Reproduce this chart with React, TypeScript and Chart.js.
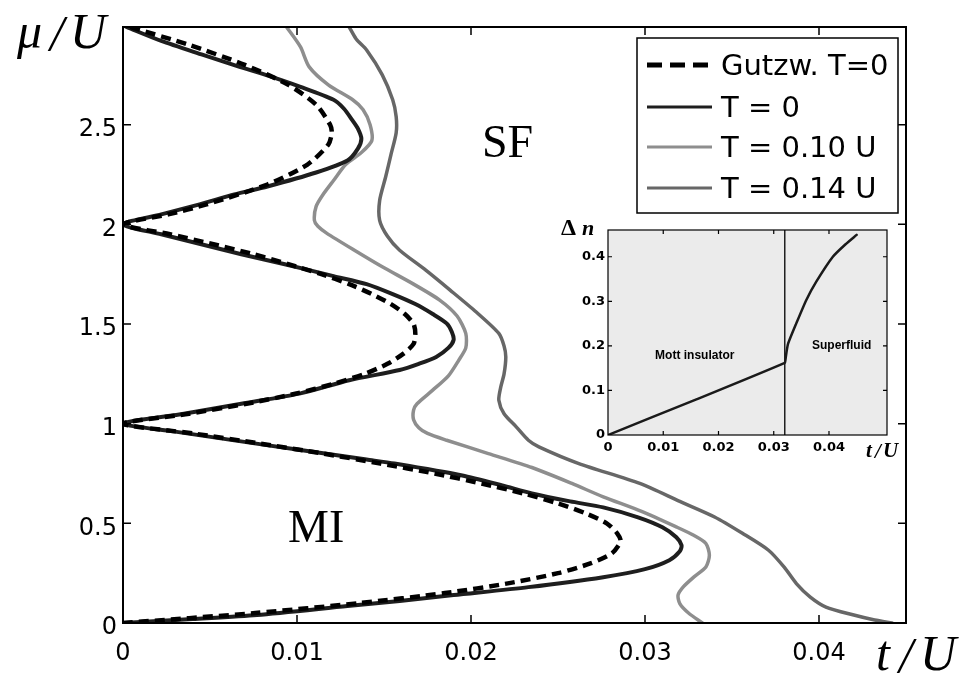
import React, { useEffect, useRef } from "react";
import { Chart, registerables } from "chart.js";

Chart.register(...registerables);

// ---------- main axes ----------
const tTicks = [0, 0.01, 0.02, 0.03, 0.04];
const muTicks = [0, 0.5, 1, 1.5, 2, 2.5];

// T = 0 (solid black)
const muT0 = [
  0, 0.02, 0.04, 0.085, 0.11, 0.14, 0.18, 0.23, 0.27, 0.315, 0.36, 0.39, 0.43, 0.48, 0.53, 0.58, 0.61, 0.65, 0.69, 0.74, 0.8, 0.82, 0.87, 0.92, 0.96, 1.0,
  1.05, 1.1, 1.152, 1.218, 1.269, 1.3, 1.335, 1.38, 1.42, 1.46, 1.503, 1.55, 1.6, 1.65, 1.7, 1.74, 1.8, 1.85, 1.9, 1.95, 2.0,
  2.05, 2.1, 2.15, 2.19, 2.26, 2.32, 2.38, 2.43, 2.48, 2.52, 2.58, 2.625, 2.69, 2.75, 2.79, 2.85, 2.92, 2.99,
];
const tT0 = [
  0, 0.004, 0.0077, 0.0129, 0.0159, 0.019, 0.0233, 0.0276, 0.03, 0.0314, 0.032, 0.0321, 0.0318, 0.031, 0.0296, 0.0276, 0.0257, 0.0235, 0.0218, 0.0195, 0.0156, 0.014, 0.01, 0.0061, 0.003, 0,
  0.0035, 0.0068, 0.0102, 0.013, 0.0159, 0.017, 0.018, 0.0187, 0.019, 0.0189, 0.0186, 0.0178, 0.0168, 0.0155, 0.014, 0.0121, 0.0093, 0.0068, 0.0045, 0.0022, 0,
  0.0022, 0.0044, 0.0064, 0.0083, 0.0111, 0.0129, 0.0135, 0.0137, 0.0135, 0.0132, 0.0127, 0.0121, 0.0102, 0.0082, 0.0067, 0.0046, 0.0022, 0.0002,
];

// Gutzwiller T = 0 (dashed black)
const muGutz = [
  0, 0.05, 0.1, 0.15, 0.2, 0.25, 0.3, 0.35, 0.41, 0.45, 0.5, 0.55, 0.6, 0.65, 0.7, 0.75, 0.8, 0.85, 0.9, 0.95, 1.0,
  1.05, 1.1, 1.15, 1.2, 1.25, 1.3, 1.35, 1.4, 1.45, 1.5, 1.55, 1.6, 1.65, 1.7, 1.75, 1.8, 1.85, 1.9, 1.95, 2.0,
  2.05, 2.1, 2.2, 2.3, 2.4, 2.46, 2.5, 2.6, 2.7, 2.8, 2.9, 2.99,
];
const tGutz = [
  0, 0.0076, 0.0136, 0.0185, 0.0222, 0.025, 0.0269, 0.0281, 0.0286, 0.0284, 0.0278, 0.0266, 0.025, 0.023, 0.0206, 0.0179, 0.0148, 0.0115, 0.0079, 0.0041, 0,
  0.0038, 0.0071, 0.0099, 0.0121, 0.0139, 0.0152, 0.0161, 0.0167, 0.0168, 0.0167, 0.0162, 0.0154, 0.0143, 0.013, 0.0114, 0.0095, 0.0075, 0.0052, 0.0027, 0,
  0.0026, 0.0048, 0.0083, 0.0106, 0.0118, 0.012, 0.0119, 0.0111, 0.0095, 0.007, 0.0038, 0.0004,
];

// T = 0.10 U (light grey)
const muT10 = [
  0, 0.05, 0.097, 0.14, 0.181, 0.23, 0.281, 0.34, 0.399, 0.44, 0.482, 0.56, 0.633, 0.7, 0.78, 0.85, 0.917, 0.951, 0.98, 1.02, 1.068, 1.1, 1.168, 1.24,
  1.319, 1.38, 1.453, 1.54, 1.62, 1.7, 1.787, 1.87, 1.956, 1.99, 2.02, 2.09, 2.15, 2.22, 2.3, 2.36, 2.42, 2.5, 2.575, 2.625, 2.7, 2.79, 2.89, 2.99,
];
const tT10 = [
  0.0333, 0.0325, 0.032, 0.0319, 0.0322, 0.0328, 0.0335, 0.0337, 0.0335, 0.0328, 0.0318, 0.0298, 0.0276, 0.0258, 0.0235, 0.021, 0.0186, 0.0175, 0.017, 0.0167, 0.0167, 0.0169, 0.0178, 0.0187,
  0.0193, 0.0197, 0.0197, 0.0192, 0.0182, 0.0167, 0.0149, 0.0133, 0.0117, 0.0112, 0.011, 0.0111, 0.0115, 0.0121, 0.0128, 0.0137, 0.0143, 0.0142, 0.0138, 0.0132, 0.0118, 0.0107, 0.0102, 0.0094,
];

// T = 0.14 U (dark grey)
const muT14 = [
  0, 0.015, 0.04, 0.08, 0.13, 0.198, 0.28, 0.365, 0.45, 0.532, 0.61, 0.7, 0.8, 0.884, 0.917, 0.984, 1.05, 1.118, 1.18, 1.25, 1.335, 1.39, 1.453,
  1.56, 1.67, 1.77, 1.87, 1.94, 2.02, 2.12, 2.24, 2.35, 2.46, 2.54, 2.625, 2.75, 2.875, 2.93, 2.99,
];
const tT14 = [
  0.0442, 0.0432, 0.042, 0.0404, 0.0395, 0.0387, 0.038, 0.0371, 0.0356, 0.034, 0.032, 0.0297, 0.0262, 0.0239, 0.0233, 0.0226, 0.0219, 0.0216, 0.0217, 0.0219, 0.022, 0.0219, 0.0216,
  0.0203, 0.0188, 0.0174, 0.0159, 0.0152, 0.01475, 0.01475, 0.0151, 0.0154, 0.0157, 0.0157, 0.0155, 0.0149, 0.014, 0.0134, 0.013,
];

// ---------- inset ----------
const insetTTicks = [0, 0.01, 0.02, 0.03, 0.04];
const insetDnTicks = [0, 0.1, 0.2, 0.3, 0.4];
const insetT = [0, 0.016, 0.032, 0.0321, 0.0323, 0.0326, 0.0341, 0.0359, 0.0377, 0.0407, 0.043, 0.045];
const insetDn = [0, 0.08, 0.162, 0.167, 0.185, 0.205, 0.251, 0.303, 0.344, 0.4, 0.428, 0.449];
const insetTc = 0.032;

const zip = (xs: number[], ys: number[]) => xs.map((x, i) => ({ x, y: ys[i] }));

const SANS = '"DejaVu Sans", sans-serif';
const SERIF = '"Liberation Serif", "DejaVu Serif", serif';

const mainDecor = {
  id: "mainDecor",
  afterDraw(chart: any) {
    const { ctx, chartArea: a, scales } = chart;
    const xs = scales.x;
    const ys = scales.y;
    ctx.save();
    // frame
    ctx.strokeStyle = "#000";
    ctx.lineWidth = 2;
    ctx.strokeRect(a.left, a.top, a.right - a.left, a.bottom - a.top);
    // inward ticks on all four sides
    ctx.lineWidth = 1.5;
    ctx.beginPath();
    for (const v of tTicks) {
      if (v === 0) continue;
      const px = xs.getPixelForValue(v);
      ctx.moveTo(px, a.bottom);
      ctx.lineTo(px, a.bottom - 8);
      ctx.moveTo(px, a.top);
      ctx.lineTo(px, a.top + 8);
    }
    for (const v of muTicks) {
      if (v === 0) continue;
      const py = ys.getPixelForValue(v);
      ctx.moveTo(a.left, py);
      ctx.lineTo(a.left + 8, py);
      ctx.moveTo(a.right, py);
      ctx.lineTo(a.right - 8, py);
    }
    ctx.stroke();

    // legend box
    const lx0 = 637, ly0 = 38, lx1 = 898, ly1 = 213;
    ctx.fillStyle = "#fff";
    ctx.fillRect(lx0, ly0, lx1 - lx0, ly1 - ly0);
    ctx.lineWidth = 1.5;
    ctx.strokeStyle = "#000";
    ctx.strokeRect(lx0, ly0, lx1 - lx0, ly1 - ly0);
    const rows = [65, 107, 147, 188];
    const ds = chart.data.datasets;
    ctx.font = `29px ${SANS}`;
    ctx.textBaseline = "middle";
    ctx.textAlign = "left";
    ds.forEach((d: any, i: number) => {
      const y = rows[i];
      ctx.beginPath();
      ctx.strokeStyle = d.borderColor;
      ctx.lineWidth = d.borderDash ? 5 : 3;
      ctx.setLineDash(d.borderDash ? [15, 8] : []);
      ctx.moveTo(647, y);
      ctx.lineTo(712, y);
      ctx.stroke();
      ctx.setLineDash([]);
      ctx.fillStyle = "#000";
      ctx.fillText(d.label, 721, y + 2);
    });

    // region labels
    ctx.fillStyle = "#000";
    ctx.font = `46px ${SERIF}`;
    ctx.textAlign = "center";
    ctx.textBaseline = "alphabetic";
    ctx.fillText("SF", xs.getPixelForValue(0.0221), ys.getPixelForValue(2.338));
    ctx.fillText("MI", xs.getPixelForValue(0.0111), ys.getPixelForValue(0.405));

    // axis titles
    ctx.font = `italic 50px ${SERIF}`;
    ctx.textAlign = "left";
    ctx.fillText("\u03bc", 17, 48);
    ctx.fillText("/", 50, 50);
    ctx.fillText("U", 70, 48);
    ctx.fillText("t", 876, 670);
    ctx.fillText("/", 899, 672);
    ctx.fillText("U", 920, 670);
    ctx.restore();
  },
};

const insetDecor = {
  id: "insetDecor",
  beforeDatasetsDraw(chart: any) {
    const { ctx, chartArea: a } = chart;
    ctx.save();
    ctx.fillStyle = "#ebebeb";
    ctx.fillRect(a.left, a.top, a.right - a.left, a.bottom - a.top);
    ctx.restore();
  },
  afterDraw(chart: any) {
    const { ctx, chartArea: a, scales } = chart;
    const xs = scales.x;
    const ys = scales.y;
    ctx.save();
    ctx.strokeStyle = "#000";
    ctx.lineWidth = 1.2;
    ctx.strokeRect(a.left, a.top, a.right - a.left, a.bottom - a.top);
    ctx.beginPath();
    for (const v of insetTTicks) {
      if (v === 0) continue;
      const px = xs.getPixelForValue(v);
      ctx.moveTo(px, a.bottom);
      ctx.lineTo(px, a.bottom - 4);
      ctx.moveTo(px, a.top);
      ctx.lineTo(px, a.top + 4);
    }
    for (const v of insetDnTicks) {
      if (v === 0) continue;
      const py = ys.getPixelForValue(v);
      ctx.moveTo(a.left, py);
      ctx.lineTo(a.left + 4, py);
      ctx.moveTo(a.right, py);
      ctx.lineTo(a.right - 4, py);
    }
    ctx.stroke();

    ctx.fillStyle = "#000";
    ctx.font = `bold 12px "Liberation Sans", sans-serif`;
    ctx.textAlign = "center";
    ctx.textBaseline = "middle";
    ctx.fillText("Mott insulator", xs.getPixelForValue(0.0157), ys.getPixelForValue(0.178));
    ctx.fillText("Superfluid", xs.getPixelForValue(0.0423), ys.getPixelForValue(0.2));

    // titles (canvas-local coords; canvas origin at 540,215)
    ctx.textAlign = "left";
    ctx.textBaseline = "alphabetic";
    ctx.font = `bold 24px ${SERIF}`;
    ctx.fillText("\u0394", 21, 20);
    ctx.font = `italic bold 22px ${SERIF}`;
    ctx.fillText("n", 42, 20);
    ctx.font = `italic bold 21px ${SERIF}`;
    ctx.fillText("t", 326, 242);
    ctx.fillText("/", 335, 243);
    ctx.fillText("U", 343, 242);
    ctx.restore();
  },
};

export default function App() {
  const mainRef = useRef<HTMLCanvasElement | null>(null);
  const insetRef = useRef<HTMLCanvasElement | null>(null);

  useEffect(() => {
    const common = {
      pointRadius: 0,
      pointHoverRadius: 0,
      fill: false,
      tension: 0.25,
      borderCapStyle: "round",
      borderJoinStyle: "round",
    };
    const main = new Chart(mainRef.current as HTMLCanvasElement, {
      type: "line",
      data: {
        datasets: [
          { ...common, label: "Gutzw. T=0", data: zip(tGutz, muGutz), borderColor: "#000000", borderWidth: 4.5, borderDash: [10, 6], borderCapStyle: "butt", order: 0 },
          { ...common, label: "T = 0", data: zip(tT0, muT0), borderColor: "#1e1e1e", borderWidth: 4, order: 1 },
          { ...common, label: "T = 0.10 U", data: zip(tT10, muT10), borderColor: "#8e8e8e", borderWidth: 3.5, order: 2 },
          { ...common, label: "T = 0.14 U", data: zip(tT14, muT14), borderColor: "#676767", borderWidth: 3.5, order: 3 },
        ] as any,
      },
      options: {
        animation: false,
        responsive: false,
        maintainAspectRatio: false,
        events: [],
        layout: { padding: { left: 0, right: 56, top: 27, bottom: 0 } },
        plugins: { legend: { display: false }, tooltip: { enabled: false } },
        scales: {
          x: {
            type: "linear",
            min: 0,
            max: 0.045,
            afterFit: (s: any) => { s.height = 66; },
            afterBuildTicks: (s: any) => { s.ticks = tTicks.map((v) => ({ value: v })); },
            grid: { display: false, drawTicks: false },
            border: { display: false },
            ticks: {
              padding: 16,
              maxRotation: 0,
              autoSkip: false,
              color: "#000",
              font: { family: SANS, size: 24 },
              callback: (v: any) => (v === 0 ? "0" : Number(v).toFixed(2)),
            },
          },
          y: {
            type: "linear",
            min: 0,
            max: 2.99,
            afterFit: (s: any) => { s.width = 123; },
            afterBuildTicks: (s: any) => { s.ticks = muTicks.map((v) => ({ value: v })); },
            grid: { display: false, drawTicks: false },
            border: { display: false },
            ticks: {
              padding: 6,
              labelOffset: 5,
              autoSkip: false,
              color: "#000",
              font: { family: SANS, size: 24 },
              callback: (v: any) => String(v),
            },
          },
        },
      } as any,
      plugins: [mainDecor],
    });

    const inset = new Chart(insetRef.current as HTMLCanvasElement, {
      type: "line",
      data: {
        datasets: [
          { ...common, tension: 0.2, label: "\u0394n", data: zip(insetT, insetDn), borderColor: "#1a1a1a", borderWidth: 2.5 },
          { ...common, tension: 0, label: "t_c", data: zip([insetTc, insetTc], [0, 0.46]), borderColor: "#000", borderWidth: 1.3 },
        ] as any,
      },
      options: {
        animation: false,
        responsive: false,
        maintainAspectRatio: false,
        events: [],
        layout: { padding: { left: 0, right: 33, top: 15, bottom: 0 } },
        plugins: { legend: { display: false }, tooltip: { enabled: false } },
        scales: {
          x: {
            type: "linear",
            min: 0,
            max: 0.0505,
            afterFit: (s: any) => { s.height = 30; },
            afterBuildTicks: (s: any) => { s.ticks = insetTTicks.map((v) => ({ value: v })); },
            grid: { display: false, drawTicks: false },
            border: { display: false },
            ticks: {
              padding: 5,
              maxRotation: 0,
              autoSkip: false,
              color: "#000",
              font: { family: SANS, size: 13, weight: "bold" },
              callback: (v: any) => (v === 0 ? "0" : Number(v).toFixed(2)),
            },
          },
          y: {
            type: "linear",
            min: 0,
            max: 0.46,
            afterFit: (s: any) => { s.width = 68; },
            afterBuildTicks: (s: any) => { s.ticks = insetDnTicks.map((v) => ({ value: v })); },
            grid: { display: false, drawTicks: false },
            border: { display: false },
            ticks: {
              padding: 3,
              autoSkip: false,
              color: "#000",
              font: { family: SANS, size: 13, weight: "bold" },
              callback: (v: any) => String(v),
            },
          },
        },
      } as any,
      plugins: [insetDecor],
    });

    return () => {
      main.destroy();
      inset.destroy();
    };
  }, []);

  return (
    <div style={{ position: "absolute", left: 0, top: 0, width: 962, height: 689, background: "#fff" }}>
      <canvas ref={mainRef} width={962} height={689} style={{ position: "absolute", left: 0, top: 0, width: 962, height: 689 }} />
      <canvas ref={insetRef} width={380} height={250} style={{ position: "absolute", left: 540, top: 215, width: 380, height: 250 }} />
    </div>
  );
}
